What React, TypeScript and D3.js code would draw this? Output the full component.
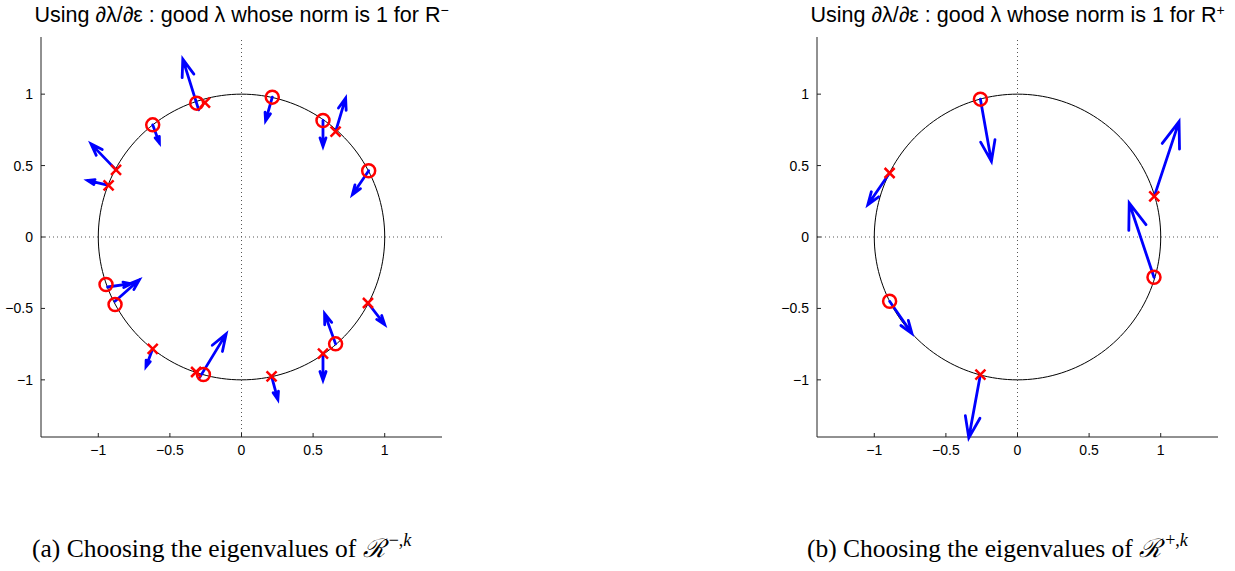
import React, { useEffect, useRef } from "react";
import * as d3 from "d3";

// tick values shared by both panels
const xTicks = [-1, -0.5, 0, 0.5, 1];
const yTicks = [-1, -0.5, 0, 0.5, 1];

// panel (a): R^-  -- markers [re, im]
const leftCircles = [
  [-0.313, 0.937], [0.215, 0.979], [-0.62, 0.785], [0.569, 0.816], [0.888, 0.464],
  [-0.946, -0.333], [-0.883, -0.473], [-0.266, -0.963], [0.657, -0.748],
];
const leftCrosses = [
  [-0.255, 0.94], [0.657, 0.738], [-0.876, 0.47], [-0.928, 0.361],
  [-0.62, -0.783], [-0.317, -0.945], [0.21, -0.975], [0.569, -0.816], [0.883, -0.462],
];
// quiver arrows [x, y, u, v]
const leftArrows = [
  [-0.299, 0.89, -0.111, 0.355],
  [0.215, 0.979, -0.047, -0.166],
  [-0.62, 0.785, 0.047, -0.128],
  [0.569, 0.816, 0, -0.182],
  [0.657, 0.738, 0.07, 0.234],
  [0.888, 0.464, -0.114, -0.168],
  [-0.876, 0.47, -0.175, 0.182],
  [-0.928, 0.361, -0.147, 0.035],
  [-0.935, -0.35, 0.164, 0.023],
  [-0.883, -0.45, 0.17, 0.151],
  [-0.62, -0.783, -0.047, -0.126],
  [-0.294, -0.986, 0.187, 0.308],
  [0.21, -0.975, 0.044, -0.163],
  [0.657, -0.748, -0.077, 0.212],
  [0.569, -0.816, 0, -0.187],
  [0.883, -0.462, 0.117, -0.151],
];

// panel (b): R^+
const rightCircles = [[-0.259, 0.965], [0.953, -0.282], [-0.893, -0.45]];
const rightCrosses = [[-0.893, 0.448], [0.955, 0.284], [-0.259, -0.963]];
const rightArrows = [
  [-0.259, 0.965, 0.077, -0.436],
  [-0.893, 0.448, -0.152, -0.222],
  [0.955, 0.284, 0.173, 0.524],
  [0.953, -0.282, -0.173, 0.52],
  [-0.893, -0.45, 0.156, -0.226],
  [-0.259, -0.963, -0.081, -0.443],
];

const panels = [
  { left: 41, sign: "\u2212", caption: "(a)", capX: 32, circles: leftCircles, crosses: leftCrosses, arrows: leftArrows },
  { left: 817, sign: "+", caption: "(b)", capX: 807, circles: rightCircles, crosses: rightCrosses, arrows: rightArrows },
];

export default function App() {
  const svgRef = useRef(null);

  useEffect(() => {
    const W = 1235;
    const H = 571;
    const svg = d3.select(svgRef.current).attr("width", W).attr("height", H);
    svg.selectAll("*").remove();

    const plotW = 401;
    const top = 37;
    const bottom = 437;
    const fmt = d3.format("~g");

    panels.forEach((p) => {
      const x = d3.scaleLinear().domain([-1.4, 1.4]).range([p.left, p.left + plotW]);
      const y = d3.scaleLinear().domain([-1.4, 1.4]).range([bottom, top]);
      const g = svg.append("g");

      // dotted zero lines
      g.append("line")
        .attr("x1", x(-1.4)).attr("x2", x(1.4))
        .attr("y1", y(0)).attr("y2", y(0))
        .attr("stroke", "#555").attr("stroke-width", 1)
        .attr("stroke-dasharray", "1,3");
      g.append("line")
        .attr("x1", x(0)).attr("x2", x(0))
        .attr("y1", y(-1.4)).attr("y2", y(1.4))
        .attr("stroke", "#555").attr("stroke-width", 1)
        .attr("stroke-dasharray", "1,3");

      // unit circle
      const circ = d3.range(0, 361, 2).map((a) => [Math.cos((a * Math.PI) / 180), Math.sin((a * Math.PI) / 180)]);
      g.append("path")
        .attr("d", d3.line().x((d) => x(d[0])).y((d) => y(d[1]))(circ))
        .attr("fill", "none").attr("stroke", "#000").attr("stroke-width", 1);

      // axes (box off, ticks inward)
      g.append("line")
        .attr("x1", x(-1.4)).attr("x2", x(-1.4)).attr("y1", top).attr("y2", bottom)
        .attr("stroke", "#222").attr("stroke-width", 1);
      g.append("line")
        .attr("x1", x(-1.4)).attr("x2", x(1.4)).attr("y1", bottom).attr("y2", bottom)
        .attr("stroke", "#222").attr("stroke-width", 1);

      xTicks.forEach((t) => {
        g.append("line")
          .attr("x1", x(t)).attr("x2", x(t)).attr("y1", bottom).attr("y2", bottom - 4)
          .attr("stroke", "#222");
        g.append("text")
          .attr("x", x(t)).attr("y", 455)
          .attr("text-anchor", "middle")
          .style("font", "14px 'Liberation Sans', Arial, sans-serif")
          .text(fmt(t));
      });
      yTicks.forEach((t) => {
        g.append("line")
          .attr("x1", x(-1.4)).attr("x2", x(-1.4) + 4).attr("y1", y(t)).attr("y2", y(t))
          .attr("stroke", "#222");
        g.append("text")
          .attr("x", x(-1.4) - 8).attr("y", y(t) + 5)
          .attr("text-anchor", "end")
          .style("font", "14px 'Liberation Sans', Arial, sans-serif")
          .text(fmt(t));
      });

      // arrows (quiver style, open V heads)
      const arrowPath = (d) => {
        const x0 = x(d[0]);
        const y0 = y(d[1]);
        const x1 = x(d[0] + d[2]);
        const y1 = y(d[1] + d[3]);
        const dx = x1 - x0;
        const dy = y1 - y0;
        const a = 0.33;
        const b = 0.35;
        const l1x = x1 - a * (dx + b * dy);
        const l1y = y1 - a * (dy - b * dx);
        const l2x = x1 - a * (dx - b * dy);
        const l2y = y1 - a * (dy + b * dx);
        return `M${x0},${y0}L${x1},${y1}M${l1x},${l1y}L${x1},${y1}L${l2x},${l2y}`;
      };
      g.selectAll("path.arrow")
        .data(p.arrows)
        .join("path")
        .attr("class", "arrow")
        .attr("d", arrowPath)
        .attr("fill", "none")
        .attr("stroke", "#0000ff")
        .attr("stroke-width", 2.8)
        .attr("stroke-linecap", "round")
        .attr("stroke-linejoin", "miter");

      // markers
      g.selectAll("circle.ev")
        .data(p.circles)
        .join("circle")
        .attr("class", "ev")
        .attr("cx", (d) => x(d[0]))
        .attr("cy", (d) => y(d[1]))
        .attr("r", 6.5)
        .attr("fill", "none")
        .attr("stroke", "#ff0000")
        .attr("stroke-width", 2.5);
      g.selectAll("path.cross")
        .data(p.crosses)
        .join("path")
        .attr("class", "cross")
        .attr("d", (d) => {
          const cx = x(d[0]);
          const cy = y(d[1]);
          const s = 5;
          return `M${cx - s},${cy - s}L${cx + s},${cy + s}M${cx - s},${cy + s}L${cx + s},${cy - s}`;
        })
        .attr("stroke", "#ff0000")
        .attr("stroke-width", 2.5);

      // title
      const title = g.append("text")
        .attr("x", (x(-1.4) + x(1.4)) / 2)
        .attr("y", 22)
        .attr("text-anchor", "middle")
        .style("font", "21.5px 'Liberation Sans', Arial, sans-serif");
      title.append("tspan").text("Using \u2202\u03bb/\u2202\u03b5 : good \u03bb whose norm is 1 for R");
      title.append("tspan").attr("dy", -7).style("font-size", "14px").text(p.sign);

      // caption
      const cap = g.append("text")
        .attr("x", p.capX)
        .attr("y", 557)
        .style("font", "25.5px 'Liberation Serif', 'Times New Roman', serif");
      cap.append("tspan").text(`${p.caption} Choosing the eigenvalues of `);
      cap.append("tspan").style("font-family", "'DejaVu Serif', serif").style("font-style", "italic").text("\u211b");
      cap.append("tspan").attr("dx", 4).attr("dy", -11).style("font-size", "18px").text(`${p.sign},`);
      cap.append("tspan").style("font-size", "18px").style("font-style", "italic").text("k");
    });
  }, []);

  return (
    <div style={{ position: "absolute", left: 0, top: 0 }}>
      <svg ref={svgRef} style={{ display: "block", background: "#fff" }} />
    </div>
  );
}
